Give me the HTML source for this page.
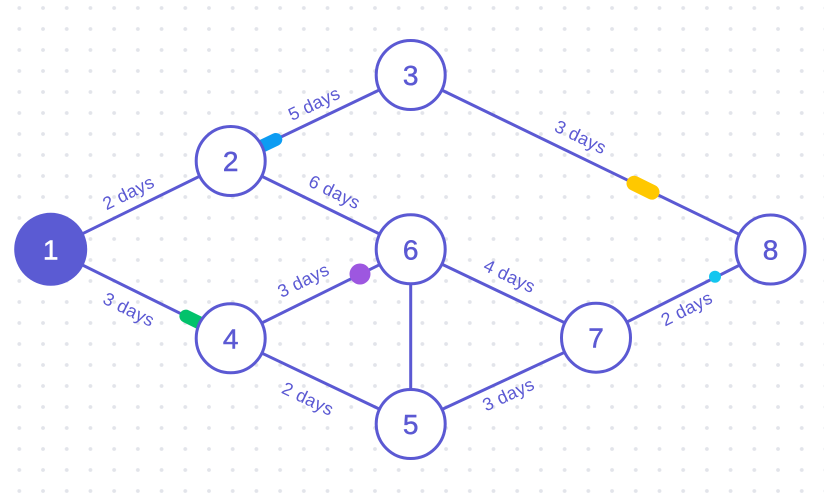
<!DOCTYPE html>
<html>
<head>
<meta charset="utf-8">
<style>
html,body{margin:0;padding:0;background:#fff;}
svg{display:block;}
text{font-family:"Liberation Sans",sans-serif;}
.lbl{font-size:18px;fill:#5b59d3;letter-spacing:0.3px;}
.num{font-size:28px;fill:#5b59d3;stroke:#5b59d3;stroke-width:0.5;}
</style>
</head>
<body>
<svg width="824" height="500" viewBox="0 0 824 500" xmlns="http://www.w3.org/2000/svg">
  <defs>
    <pattern id="dots" patternUnits="userSpaceOnUse" x="7.45" y="-2.5" width="23.71" height="21">
      <circle cx="11.855" cy="10.5" r="1.9" fill="#e2e4ea"/>
    </pattern>
  </defs>
  <rect width="824" height="500" fill="#ffffff"/>
  <rect width="824" height="500" fill="url(#dots)"/>

  <!-- edges -->
  <g stroke="#5b59d3" stroke-width="3" fill="none">
    <line x1="50.7" y1="249.3" x2="230.7" y2="161"/>
    <line x1="50.7" y1="249.3" x2="230.7" y2="338.3"/>
    <line x1="230.7" y1="161" x2="410.7" y2="75"/>
    <line x1="230.7" y1="161" x2="410.7" y2="249.3"/>
    <line x1="410.7" y1="75" x2="770.5" y2="249.5"/>
    <line x1="230.7" y1="338.3" x2="410.7" y2="249.3"/>
    <line x1="230.7" y1="338.3" x2="410.7" y2="424"/>
    <line x1="410.7" y1="249.3" x2="410.7" y2="424"/>
    <line x1="410.7" y1="249.3" x2="596" y2="337.7"/>
    <line x1="410.7" y1="424" x2="596" y2="337.7"/>
    <line x1="596" y1="337.7" x2="770.5" y2="249.5"/>
  </g>

  <!-- markers -->
  <line x1="257.8" y1="148.1" x2="275.8" y2="139.5" stroke="#0d9cf2" stroke-width="13" stroke-linecap="round"/>
  <line x1="203.8" y1="325" x2="185.9" y2="316.2" stroke="#02c26b" stroke-width="13" stroke-linecap="round"/>
  <line x1="634" y1="183.3" x2="652" y2="192.1" stroke="#ffc800" stroke-width="15" stroke-linecap="round"/>
  <circle cx="360" cy="274" r="10.5" fill="#9d57e0"/>
  <circle cx="715" cy="276.7" r="6" fill="#14c6ef"/>

  <!-- nodes -->
  <circle cx="50.7" cy="249.3" r="36.5" fill="#5b5bd3"/>
  <g fill="#ffffff" stroke="#5b59d3" stroke-width="3">
    <circle cx="230.7" cy="161" r="34.5"/>
    <circle cx="410.7" cy="75" r="34.5"/>
    <circle cx="230.7" cy="338.3" r="34.5"/>
    <circle cx="410.7" cy="249.3" r="34.5"/>
    <circle cx="410.7" cy="424" r="34.5"/>
    <circle cx="596" cy="337.7" r="34.5"/>
    <circle cx="770.5" cy="249.5" r="34.5"/>
  </g>

  <!-- node numbers -->
  <g text-anchor="middle">
    <text class="num" x="50.7" y="259.3" style="fill:#ffffff;stroke:#ffffff">1</text>
    <text class="num" x="230.7" y="171">2</text>
    <text class="num" x="410.7" y="85">3</text>
    <text class="num" x="230.7" y="348.3">4</text>
    <text class="num" x="410.7" y="434">5</text>
    <text class="num" x="410.7" y="259.3">6</text>
    <text class="num" x="596" y="347.7">7</text>
    <text class="num" x="770.5" y="259.5">8</text>
  </g>

  <!-- edge labels -->
  <g text-anchor="middle" dominant-baseline="middle">
    <text class="lbl" transform="translate(129,194) rotate(-26.1)">2 days</text>
    <text class="lbl" transform="translate(128.3,310.7) rotate(26.3)">3 days</text>
    <text class="lbl" transform="translate(314.7,105) rotate(-25.5)">5 days</text>
    <text class="lbl" transform="translate(334,193.3) rotate(26.1)">6 days</text>
    <text class="lbl" transform="translate(580,138.3) rotate(25.9)">3 days</text>
    <text class="lbl" transform="translate(687.3,310) rotate(-26.9)">2 days</text>
    <text class="lbl" transform="translate(304,281.7) rotate(-26.3)">3 days</text>
    <text class="lbl" transform="translate(307.3,400) rotate(25.5)">2 days</text>
    <text class="lbl" transform="translate(509,277.3) rotate(25.5)">4 days</text>
    <text class="lbl" transform="translate(509,395.7) rotate(-25)">3 days</text>
  </g>
</svg>
</body>
</html>
